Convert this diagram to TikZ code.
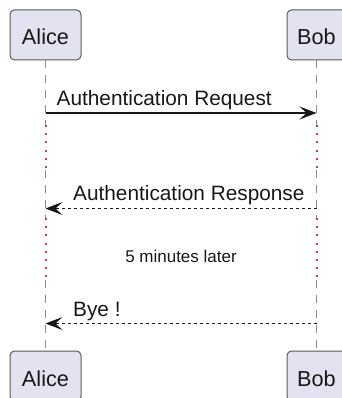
\documentclass[tikz,border=0pt]{standalone}
\usepackage{fontspec}
\setmainfont{Liberation Sans}
\usetikzlibrary{arrows.meta}
\definecolor{partfill}{HTML}{E2E2F0}
\definecolor{partline}{HTML}{5A5A5A}
\definecolor{delaydot}{HTML}{B8406A}
\definecolor{lifecol}{HTML}{8A8A8A}
\definecolor{msgcol}{HTML}{181818}
\begin{document}
\begin{tikzpicture}[x=1pt,y=-1pt,
  participant/.style={draw=partline, fill=partfill, line width=1pt, rounded corners=4.5pt,
    minimum height=50pt, inner sep=0pt, text height=20pt, text depth=0pt,
    font=\fontsize{21.7}{24}\selectfont, text=msgcol},
  lifedash/.style={draw=lifecol, line width=0.9pt, dash pattern=on 7.5pt off 7.5pt},
  lifedot/.style={draw=delaydot, line width=2pt, dash pattern=on 2pt off 6.2pt},
  msgtip/.style={-{Stealth[length=17pt, width=13pt, inset=7pt]}},
  msg/.style={draw=msgcol, line width=1.5pt, msgtip},
  retmsg/.style={draw=msgcol, line width=1.2pt, dash pattern=on 3pt off 3pt, msgtip},
  msglabel/.style={inner sep=0pt, anchor=base west, font=\fontsize{20.8}{24}\selectfont, text=msgcol},
  delaylabel/.style={inner sep=0pt, anchor=base, font=\fontsize{17}{20}\selectfont, text=msgcol}]
\useasboundingbox (0,0) rectangle (341,398);

% participants
\node[participant, minimum width=71pt] (aliceTop) at (45.5,35) {Alice};
\node[participant, minimum width=59pt] (bobTop) at (316.5,35) {Bob};
\node[participant, minimum width=71pt] (aliceBot) at (45.5,376) {Alice};
\node[participant, minimum width=59pt] (bobBot) at (316.5,376) {Bob};

% lifeline break points
\coordinate (d1s) at (0,125);
\coordinate (d1e) at (0,170);
\coordinate (d2s) at (0,218);
\coordinate (d2e) at (0,280);

% Alice lifeline
\draw[lifedash] (aliceTop.south) -- (aliceTop.south |- d1s);
\draw[lifedot] (aliceTop.south |- d1s) -- (aliceTop.south |- d1e);
\draw[lifedash] (aliceTop.south |- d1e) -- (aliceTop.south |- d2s);
\draw[lifedot] (aliceTop.south |- d2s) -- (aliceTop.south |- d2e);
\draw[lifedash] (aliceTop.south |- d2e) -- (aliceBot.north);

% Bob lifeline
\draw[lifedash] (bobTop.south) -- (bobTop.south |- d1s);
\draw[lifedot] (bobTop.south |- d1s) -- (bobTop.south |- d1e);
\draw[lifedash] (bobTop.south |- d1e) -- (bobTop.south |- d2s);
\draw[lifedot] (bobTop.south |- d2s) -- (bobTop.south |- d2e);
\draw[lifedash] (bobTop.south |- d2e) -- (bobBot.north);

% message rows
\coordinate (m1) at (0,113);
\coordinate (m2) at (0,208.5);
\coordinate (m3) at (0,323.5);

\draw[msg] (aliceTop.south |- m1) -- (bobTop.south |- m1);
\node[msglabel] (l1) at (56.5,106) {Authentication Request};

\draw[retmsg] (bobTop.south |- m2) -- (aliceTop.south |- m2);
\node[msglabel] (l2) at (73,200.5) {Authentication Response};

\node[delaylabel] (dl) at (181,262.5) {5 minutes later};

\draw[retmsg] (bobTop.south |- m3) -- (aliceTop.south |- m3);
\node[msglabel] (l3) at (73,316) {Bye !};
\end{tikzpicture}
\end{document}
